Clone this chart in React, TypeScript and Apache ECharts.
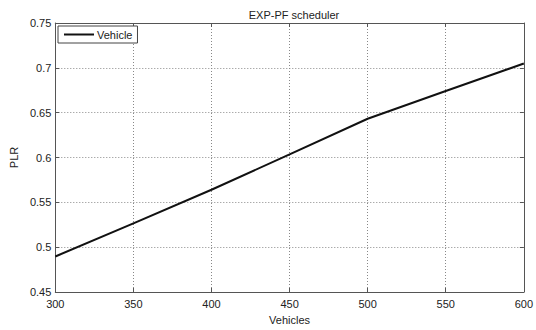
import React, { useEffect, useRef } from "react";
import * as echarts from "echarts";

const vehicles = [300, 350, 400, 450, 500, 550, 600];
const plr = [0.4896, 0.5266, 0.564, 0.6035, 0.6432, 0.6742, 0.7048];
const xTicks = [300, 350, 400, 450, 500, 550, 600];
const yTicks = [0.45, 0.5, 0.55, 0.6, 0.65, 0.7, 0.75];
const titleText = "EXP-PF scheduler";
const seriesName = "Vehicle";
const xName = "Vehicles";
const yName = "PLR";

const FONT = "Liberation Sans, Arial, sans-serif";
const TXT = "#222";

export default function App() {
  const ref = useRef<HTMLDivElement>(null);
  useEffect(() => {
    if (!ref.current) return;
    const chart = echarts.init(ref.current, undefined, { renderer: "svg" });
    const axisLine = { show: true, lineStyle: { color: "#555", width: 1 } };
    const tick = { show: true, inside: true, length: 4, lineStyle: { color: "#555" } };
    const split = { show: true, lineStyle: { color: "#888", type: [1, 2] as any, width: 1 } };
    chart.setOption({
      animation: false,
      backgroundColor: "#fff",
      textStyle: { fontFamily: FONT },
      title: {
        text: titleText,
        left: 289,
        top: 4,
        textAlign: "center",
        textStyle: { fontSize: 11, fontWeight: "normal", color: TXT, fontFamily: FONT },
      },
      legend: {
        data: [seriesName],
        left: 58,
        top: 26,
        orient: "vertical",
        padding: [3, 5, 3, 6],
        itemGap: 0,
        itemWidth: 30,
        itemHeight: 2,
        icon: "rect",
        borderColor: "#444",
        borderWidth: 1,
        backgroundColor: "#fff",
        textStyle: { fontSize: 11, color: TXT, fontFamily: FONT, padding: [0, 0, 0, -2] },
      },
      grid: { left: 54, right: 11, top: 23, bottom: 29, containLabel: false },
      xAxis: [
        {
          type: "value",
          min: 300,
          max: 600,
          interval: 50,
          name: xName,
          nameLocation: "middle",
          nameGap: 22,
          nameTextStyle: { fontSize: 11, color: TXT, fontFamily: FONT },
          axisLine,
          axisTick: tick,
          splitLine: split,
          axisLabel: { fontSize: 11, color: TXT, fontFamily: FONT, margin: 6 },
        },
        {
          type: "value",
          position: "top",
          min: 300,
          max: 600,
          interval: 50,
          axisLine,
          axisTick: tick,
          splitLine: { show: false },
          axisLabel: { show: false },
        },
      ],
      yAxis: [
        {
          type: "value",
          min: 0.45,
          max: 0.75,
          interval: 0.05,
          name: yName,
          nameLocation: "middle",
          nameGap: 28,
          nameTextStyle: { fontSize: 11, color: TXT, fontFamily: FONT },
          axisLine,
          axisTick: tick,
          splitLine: split,
          axisLabel: {
            fontSize: 11,
            color: TXT,
            fontFamily: FONT,
            margin: 4,
            formatter: (v: number) => String(parseFloat(v.toFixed(2))),
          },
        },
        {
          type: "value",
          position: "right",
          min: 0.45,
          max: 0.75,
          interval: 0.05,
          axisLine,
          axisTick: tick,
          splitLine: { show: false },
          axisLabel: { show: false },
        },
      ],
      series: [
        {
          name: seriesName,
          type: "line",
          data: vehicles.map((v, i) => [v, plr[i]]),
          symbol: "none",
          lineStyle: { color: "#111", width: 2 },
          itemStyle: { color: "#111" },
        },
      ],
    });
    void xTicks;
    void yTicks;
    return () => chart.dispose();
  }, []);
  return <div ref={ref} style={{ width: 536, height: 330, position: "absolute", left: 0, top: 0 }} />;
}
